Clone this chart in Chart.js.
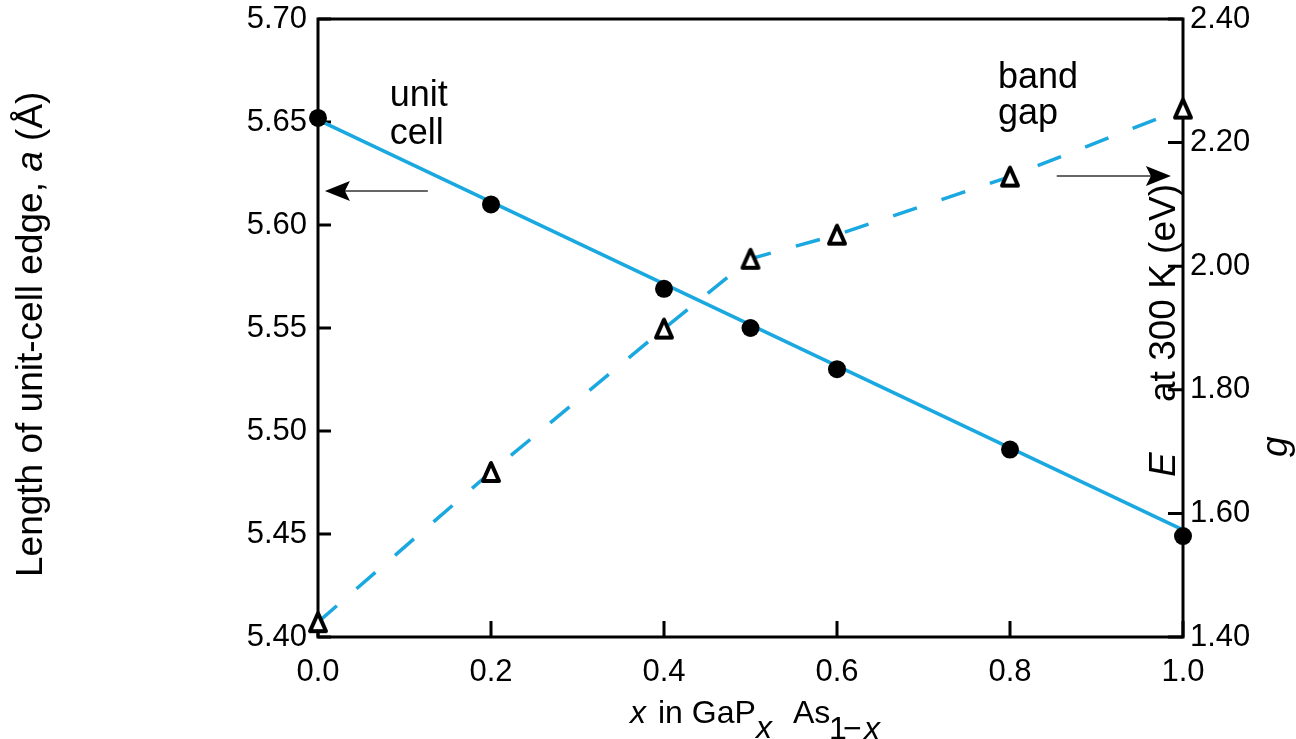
<!DOCTYPE html>
<html>
<head>
<meta charset="utf-8">
<script src="https://cdn.jsdelivr.net/npm/chart.js@4"></script>
<style>
  body { margin: 0; background: #fff; }
  #wrap { width: 1296px; height: 739px; position: relative; }
</style>
</head>
<body>
<div id="wrap"><canvas id="chart"></canvas></div>
<script>
// composition x in GaP(x)As(1-x)
var xComp = [0.0, 0.2, 0.4, 0.5, 0.6, 0.8, 1.0];
// unit cell edge (A), filled circles
var cellEdge = [5.652, 5.610, 5.569, 5.550, 5.530, 5.491, 5.449];
// band gap at 300 K (eV), open triangles
var bandGap = [1.424, 1.667, 1.899, 2.012, 2.051, 2.145, 2.255];
// straight line through the unit cell values
var cellLineX = [0, 1];
var cellLineA = [5.651, 5.452];

var xTicks = [0, 0.2, 0.4, 0.6, 0.8, 1.0];
var aTicks = [5.40, 5.45, 5.50, 5.55, 5.60, 5.65, 5.70];
var gTicks = [1.40, 1.60, 1.80, 2.00, 2.20, 2.40];

var BLUE = '#1aa8e0';
var FONT = '"Liberation Sans", Arial, Helvetica, sans-serif';

Chart.defaults.font.family = FONT;
Chart.defaults.color = '#000';

function pts(xs, ys) {
	return xs.map(function(x, i) { return { x: x, y: ys[i] }; });
}

// open triangle marker
function triIcon() {
	var c = document.createElement('canvas');
	c.width = 24; c.height = 26;
	var g = c.getContext('2d');
	g.beginPath();
	g.moveTo(12, 4);
	g.lineTo(4, 22);
	g.lineTo(20, 22);
	g.closePath();
	g.fillStyle = '#fff';
	g.fill();
	g.lineWidth = 4;
	g.lineJoin = 'round';
	g.strokeStyle = '#000';
	g.stroke();
	return c;
}

function arrow(ctx, x0, x1, y) {
	// thin shaft, dart head at x1
	var dir = x1 < x0 ? 1 : -1;
	ctx.save();
	ctx.strokeStyle = '#333';
	ctx.lineWidth = 1.5;
	ctx.beginPath();
	ctx.moveTo(x0, y);
	ctx.lineTo(x1 + dir * 20, y);
	ctx.stroke();
	ctx.fillStyle = '#000';
	ctx.beginPath();
	ctx.moveTo(x1, y);
	ctx.lineTo(x1 + dir * 25, y - 10);
	ctx.lineTo(x1 + dir * 20, y);
	ctx.lineTo(x1 + dir * 25, y + 10);
	ctx.closePath();
	ctx.fill();
	ctx.restore();
}

function noPad(sc) {
	sc.paddingTop = 0; sc.paddingBottom = 0;
	sc.paddingLeft = 0; sc.paddingRight = 0;
}

// frame, inward ticks
var framePlugin = {
	id: 'frame',
	beforeDatasetsDraw: function(chart) {
		var ctx = chart.ctx, ca = chart.chartArea, s = chart.scales;
		ctx.save();
		ctx.strokeStyle = '#000';
		ctx.lineWidth = 3;
		ctx.strokeRect(ca.left, ca.top, ca.right - ca.left, ca.bottom - ca.top);
		ctx.beginPath();
		s.y.ticks.forEach(function(t) {
			var p = s.y.getPixelForValue(t.value);
			ctx.moveTo(ca.left, p); ctx.lineTo(ca.left + 13, p);
		});
		s.y2.ticks.forEach(function(t) {
			var p = s.y2.getPixelForValue(t.value);
			ctx.moveTo(ca.right, p); ctx.lineTo(ca.right - 15, p);
		});
		s.x.ticks.forEach(function(t) {
			var p = s.x.getPixelForValue(t.value);
			ctx.moveTo(p, ca.bottom); ctx.lineTo(p, ca.bottom - 16);
		});
		ctx.stroke();
		ctx.restore();
	},
	afterDraw: function(chart) {
		var ctx = chart.ctx, s = chart.scales;
		var X = function(v) { return s.x.getPixelForValue(v); };
		var A = function(v) { return s.y.getPixelForValue(v); };
		var G = function(v) { return s.y2.getPixelForValue(v); };
		ctx.save();
		ctx.fillStyle = '#000';
		ctx.textAlign = 'left';
		ctx.textBaseline = 'alphabetic';

		// annotations
		ctx.font = '36px ' + FONT;
		ctx.fillText('unit', X(0.083), A(5.658));
		ctx.fillText('cell', X(0.083), A(5.6395));
		ctx.fillText('band', X(0.786), G(2.2885));
		ctx.fillText('gap', X(0.786), G(2.2305));
		arrow(ctx, X(0.127), X(0.008), A(5.6165));
		arrow(ctx, X(0.854), X(0.986), G(2.146));

		// x title
		ctx.font = 'italic 32px ' + FONT;
		ctx.fillText('x', 630, 723);
		ctx.font = '32px ' + FONT;
		ctx.fillText('in GaP', 658, 723);
		ctx.font = 'italic 32px ' + FONT;
		ctx.fillText('x', 756, 738);
		ctx.font = '32px ' + FONT;
		ctx.fillText('As', 793, 723);
		ctx.fillText('1', 829, 739);
		ctx.fillText('\u2212', 843, 739);
		ctx.font = 'italic 32px ' + FONT;
		ctx.fillText('x', 864, 739);

		// left title
		ctx.save();
		ctx.translate(42, 577);
		ctx.rotate(-Math.PI / 2);
		var off = 0, t1 = 'Length of unit-cell edge, ';
		ctx.font = '37px ' + FONT;
		ctx.fillText(t1, off, 0);
		off += ctx.measureText(t1).width;
		ctx.font = 'italic 37px ' + FONT;
		ctx.fillText('a', off, 0);
		off += ctx.measureText('a').width;
		ctx.font = '37px ' + FONT;
		ctx.fillText(' (\u00c5)', off, 0);
		ctx.restore();

		// right title
		ctx.save();
		ctx.translate(1175, 477);
		ctx.rotate(-Math.PI / 2);
		ctx.font = 'italic 37px ' + FONT;
		ctx.fillText('E', 0, 0);
		ctx.font = '37px ' + FONT;
		ctx.fillText('at 300 K (eV)', 75, 0);
		ctx.restore();
		ctx.save();
		ctx.translate(1287, 457);
		ctx.rotate(-Math.PI / 2);
		ctx.font = 'italic 37px ' + FONT;
		ctx.fillText('g', 0, 0);
		ctx.restore();

		ctx.restore();
	}
};

new Chart(document.getElementById('chart'), {
	type: 'scatter',
	data: {
		datasets: [{
			label: 'unit cell',
			data: pts(xComp, cellEdge),
			yAxisID: 'y',
			showLine: false,
			pointRadius: 9,
			pointBackgroundColor: '#000',
			pointBorderWidth: 0,
			clip: false,
			order: 0
		}, {
			label: 'band gap',
			data: pts(xComp, bandGap),
			yAxisID: 'y2',
			showLine: true,
			borderColor: BLUE,
			borderWidth: 3.5,
			borderDash: [25, 26],
			pointStyle: triIcon(),
			pointRadius: 10,
			clip: false,
			order: 1
		}, {
			label: 'unit cell line',
			data: pts(cellLineX, cellLineA),
			yAxisID: 'y',
			showLine: true,
			borderColor: BLUE,
			borderWidth: 3.5,
			pointRadius: 0,
			clip: false,
			order: 2
		}]
	},
	options: {
		responsive: true,
		maintainAspectRatio: false,
		animation: false,
		layout: { padding: { top: 19, left: 0, right: 0, bottom: 0 } },
		plugins: { legend: { display: false }, tooltip: { enabled: false } },
		scales: {
			x: {
				type: 'linear', min: 0, max: 1,
				grid: { display: false, drawTicks: false },
				border: { display: false },
				afterBuildTicks: function(sc) { sc.ticks = xTicks.map(function(v) { return { value: v }; }); },
				afterFit: function(sc) { sc.height = 102; noPad(sc); },
				ticks: { font: { size: 31 }, padding: 17, maxRotation: 0,
					callback: function(v) { return v.toFixed(1); } }
			},
			y: {
				type: 'linear', position: 'left', min: 5.40, max: 5.70,
				grid: { display: false, drawTicks: false },
				border: { display: false },
				afterBuildTicks: function(sc) { sc.ticks = aTicks.map(function(v) { return { value: v }; }); },
				afterFit: function(sc) { sc.width = 318; noPad(sc); },
				ticks: { font: { size: 31 }, padding: 11,
					callback: function(v) { return v.toFixed(2); } }
			},
			y2: {
				type: 'linear', position: 'right', min: 1.40, max: 2.40,
				grid: { display: false, drawTicks: false },
				border: { display: false },
				afterBuildTicks: function(sc) { sc.ticks = gTicks.map(function(v) { return { value: v }; }); },
				afterFit: function(sc) { sc.width = 113; noPad(sc); },
				ticks: { font: { size: 31 }, padding: 7,
					callback: function(v) { return v.toFixed(2); } }
			}
		}
	},
	plugins: [framePlugin]
});
</script>
</body>
</html>
